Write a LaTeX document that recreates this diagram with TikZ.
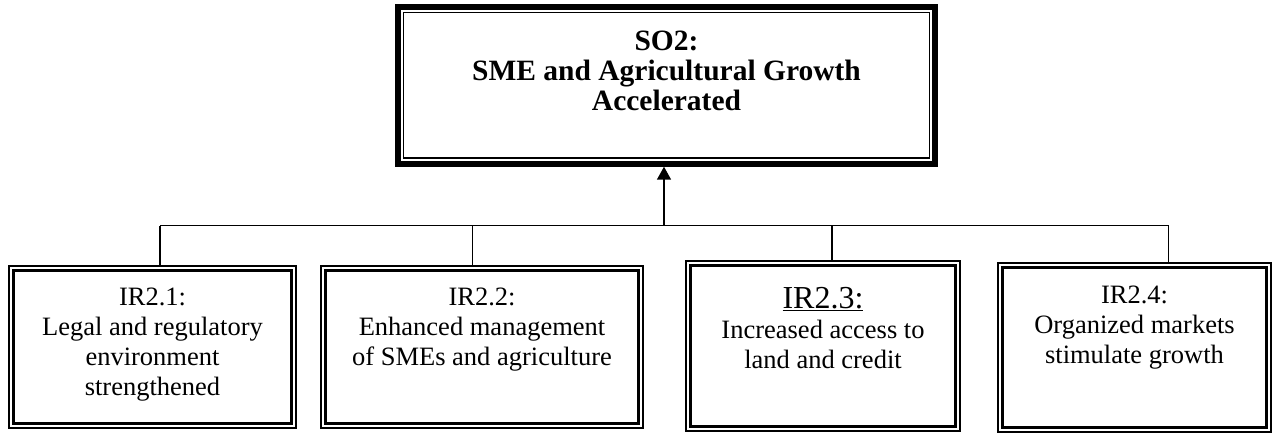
\documentclass[tikz,border=0pt]{standalone}
\usepackage{fontspec}
\setmainfont{Liberation Serif}
\usetikzlibrary{arrows.meta}
\begin{document}
\begin{tikzpicture}[x=1pt,y=-1pt,
  topbox/.style={draw, line width=6pt, inner sep=0pt, outer sep=0pt},
  topinner/.style={line width=1.5pt},
  irbox/.style={draw, line width=2pt, inner sep=0pt, outer sep=0pt},
  irinner/.style={line width=3pt},
  irtext/.style={anchor=north, align=center, inner sep=0pt, font=\fontsize{26.5}{30}\selectfont},
  toptext/.style={anchor=north, align=center, inner sep=0pt, font=\fontsize{29.5}{30}\selectfont\bfseries},
  link/.style={line width=1.5pt},
]
\useasboundingbox (0,0) rectangle (1272,432);
% top box
\node[topbox, minimum width=537pt, minimum height=156.7pt] (so) at (666.5,85.35) {};
\draw[topinner] ([shift={(5.7,5.7)}]so.north west) rectangle ([shift={(-5.7,-5.7)}]so.south east);
\node[toptext] (sot) at (666.5,31) {SO2:\\SME and Agricultural Growth\\Accelerated};
% IR boxes
\node[irbox, minimum width=287pt, minimum height=161.5pt] (b1) at (152.5,346.75) {};
\node[irbox, minimum width=322pt, minimum height=161.5pt] (b2) at (482,346.75) {};
\node[irbox, minimum width=274pt, minimum height=170pt] (b3) at (823,346) {};
\node[irbox, minimum width=272.5pt, minimum height=169pt] (b4) at (1134.25,347) {};
\foreach \b in {b1,b2,b3,b4}{
  \draw[irinner] ([shift={(4.5,4.5)}]\b.north west) rectangle ([shift={(-4.5,-4.5)}]\b.south east);
}
\node[irtext] (t1) at (152.5,288) {IR2.1:\\Legal and regulatory\\environment\\strengthened};
\node[irtext] (t2) at (482,288) {IR2.2:\\Enhanced management\\of SMEs and agriculture};
\node[irtext] (t3) at (823,287) {{\fontsize{32}{30}\selectfont\underline{IR2.3:}}\\Increased access to\\land and credit};
\node[irtext] (t4) at (1134.5,286) {IR2.4:\\Organized markets\\stimulate growth};
% connectors
\coordinate (hub) at (664,225.7);
\coordinate (j1) at (160,225.7);
\coordinate (j2) at (472.7,225.7);
\coordinate (j3) at (832,225.7);
\coordinate (j4) at (1168.7,225.7);
\draw[link] (j1) -- (j4);
\draw[link] (j1) -- (j1 |- b1.north);
\draw[link] (j2) -- (j2 |- b2.north);
\draw[link] (j3) -- (j3 |- b3.north);
\draw[link] (j4) -- (j4 |- b4.north);
\draw[link, -{Triangle[width=14pt,length=13pt]}] (hub) -- ([yshift=-3pt]hub |- so.south);
\end{tikzpicture}
\end{document}
